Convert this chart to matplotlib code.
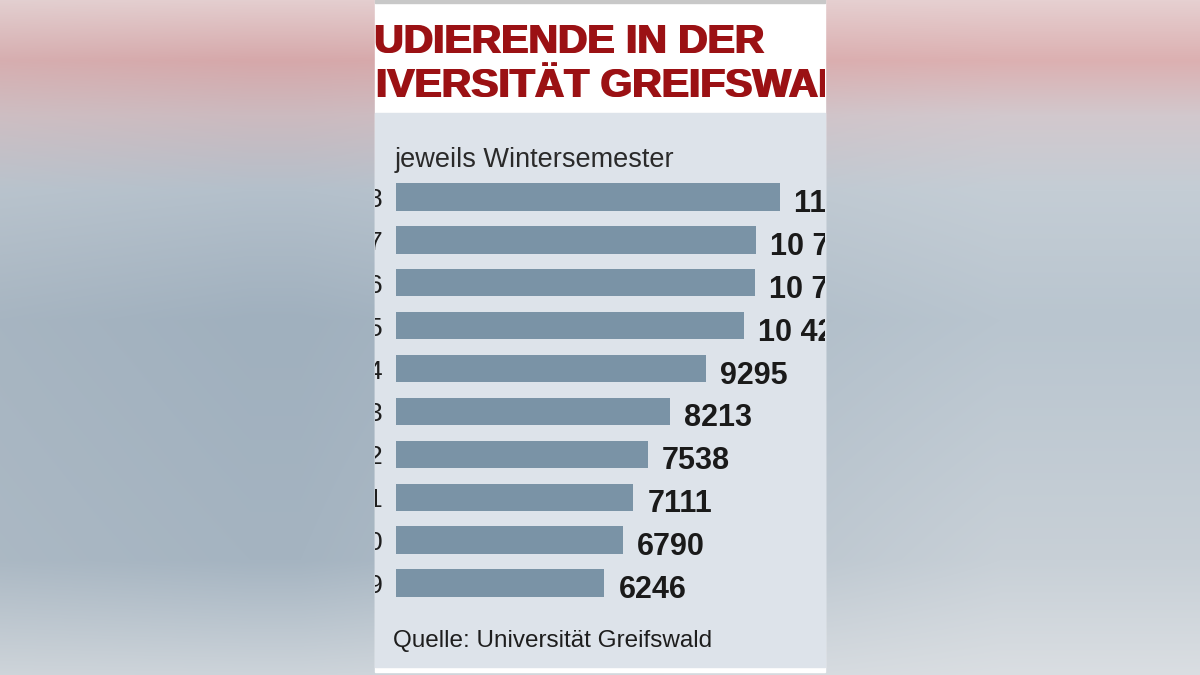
import numpy as np
import matplotlib.pyplot as plt
from matplotlib.patches import Rectangle

# Studierende an der Universität Greifswald, jeweils Wintersemester
jahre = ["2008", "2007", "2006", "2005", "2004", "2003", "2002", "2001", "2000", "1999"]
studierende = [11497, 10778, 10769, 10424, 9295, 8213, 7538, 7111, 6790, 6246]

titel1 = "STUDIERENDE IN DER"
titel2 = "UNIVERSITÄT GREIFSWALD"
untertitel = "jeweils Wintersemester"
quelle = "Quelle: Universität Greifswald"


def label(v):
    s = str(v)
    if v >= 10000:
        s = s[:-3] + " " + s[-3:]
    return s


fig = plt.figure(figsize=(12, 6.75), dpi=100)

# blurred background left and right of the graphic
H, W = 675, 1200
ys = np.arange(H)
stops_y = [0, 60, 115, 190, 320, 560, 675]
links = np.array([[228, 206, 207], [214, 168, 170], [204, 186, 191], [180, 192, 203],
                  [160, 176, 190], [165, 180, 193], [205, 212, 218]]) / 255
rechts = np.array([[230, 208, 209], [220, 176, 177], [210, 200, 205], [196, 205, 213],
                   [185, 197, 207], [200, 208, 215], [218, 222, 226]]) / 255
colL = np.stack([np.interp(ys, stops_y, links[:, c]) for c in range(3)], axis=1)
colR = np.stack([np.interp(ys, stops_y, rechts[:, c]) for c in range(3)], axis=1)
xs = np.arange(W)
w = np.clip((xs - 300) / 700, 0, 1)
img = colL[:, None, :] * (1 - w[None, :, None]) + colR[:, None, :] * w[None, :, None]
edge = np.clip(1 - xs / 250, 0, 1) * 0.12
img = img * (1 - edge[None, :, None]) + 0.85 * edge[None, :, None]

bg = fig.add_axes([0, 0, 1, 1])
bg.imshow(img, aspect="auto", extent=[0, W, H, 0], interpolation="bilinear")
bg.set_xlim(0, W)
bg.set_ylim(H, 0)
bg.axis("off")

# panel
bg.add_patch(Rectangle((375, 0), 450, 672, color="white", zorder=1))
bg.add_patch(Rectangle((375, 0), 450, 3, color="#c8c8c8", zorder=2))
bg.add_patch(Rectangle((375, 113), 450, 554, color="#dde3ea", zorder=2))

# title area: the headline is cut off at the panel edges
kopf = fig.add_axes([375 / W, (H - 113) / H, 450 / W, 110 / H])
kopf.set_xlim(375, 825)
kopf.set_ylim(113, 3)
kopf.axis("off")

for txt, x0, yb in [(titel1, 322, 53), (titel2, 317, 97)]:
    for dx in (-0.6, 0.6):
        kopf.text(x0 + dx, yb, txt, fontsize=29.3, fontweight="bold", color="#9b1114",
                  family=["Liberation Sans", "DejaVu Sans"], va="baseline",
                  clip_on=True)

bg.text(395, 167, untertitel, fontsize=19.5, color="#2a2a2a",
        family=["Liberation Sans", "DejaVu Sans"], va="baseline", zorder=3)
bg.text(393, 647, quelle, fontsize=17.5, color="#1e1e1e",
        family=["Liberation Sans", "DejaVu Sans"], va="baseline", zorder=3)

# bars
scale = 0.03338  # px per student
ax = fig.add_axes([375 / W, (H - 604.5) / H, 450 / W, 429 / H])
ax.set_facecolor("none")
pos = np.arange(len(jahre))
ax.barh(pos, studierende, height=0.64, color="#7a93a6")
ax.set_xlim(-21 / scale, 429 / scale)
ax.set_ylim(len(jahre) - 0.5, -0.5)
ax.axis("off")

for i, (j, v) in enumerate(zip(jahre, studierende)):
    a = ax.annotate(j, xy=(0, i), xytext=(-13, -10), textcoords="offset pixels",
                    ha="right", va="baseline", fontsize=19, color="#1e1e1e",
                    family=["Liberation Sans", "DejaVu Sans"],
                    annotation_clip=False)
    a.set_clip_path(ax.patch)
    b = ax.annotate(label(v), xy=(v, i), xytext=(14, -15), textcoords="offset pixels",
                    ha="left", va="baseline", fontsize=22, fontweight="bold",
                    color="#1a1a1a", family=["Liberation Sans", "DejaVu Sans"],
                    annotation_clip=False)
    b.set_clip_path(ax.patch)

fig.savefig("out.png", dpi=100)
